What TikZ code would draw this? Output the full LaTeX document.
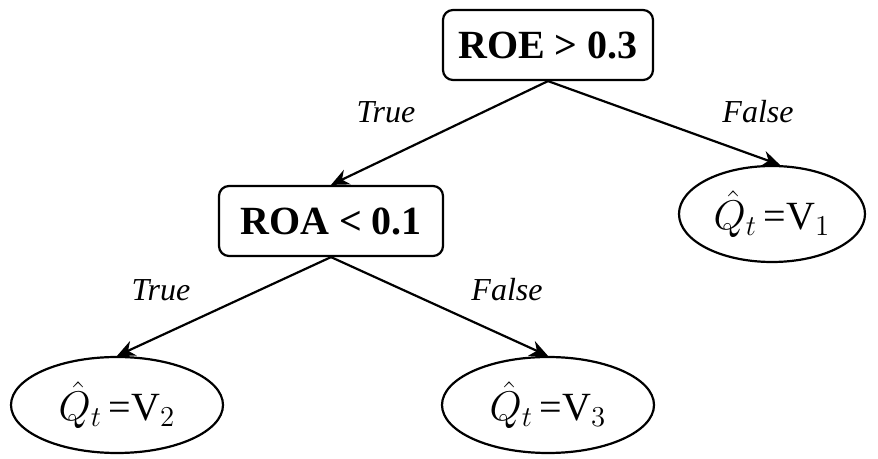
\documentclass[tikz,border=0pt]{standalone}
\usepackage{fontspec}
\setmainfont{Liberation Serif}
\usetikzlibrary{arrows.meta,shapes.geometric}
\colorlet{node edge}{black}
\tikzset{test/.style={draw=node edge, line width=1.1pt, rounded corners=5pt,
        minimum width=105pt, minimum height=35pt, font=\fontsize{20}{24}\selectfont\bfseries},
    leaf/.style={draw=node edge, ellipse, line width=1.1pt, inner sep=1pt,
        minimum width=106pt, minimum height=48pt, font=\fontsize{20}{24}\selectfont},
    branch/.style={line width=1.1pt, -{Stealth[length=9pt,width=8pt]}},
    answer/.style={font=\fontsize{16}{19}\selectfont\itshape}}

\begin{document}
\begin{tikzpicture}[x=0.5pt, y=-0.5pt]
    \useasboundingbox (0,0) rectangle (878,459);
    \node[test] (roe) at (548,45)  {ROE > 0.3};
    \node[test, minimum width=112pt] (roa) at (331,221) {ROA < 0.1};
    \node[leaf, minimum width=93pt] (v1) at (772,214) {$\hat{Q}_t$\,=V$_1$};
    \node[leaf] (v2) at (117,405) {$\hat{Q}_t$\,=V$_2$};
    \node[leaf] (v3) at (548,405) {$\hat{Q}_t$\,=V$_3$};
    \draw[branch] (roe.south) -- (roa.north);
    \draw[branch] (roe.south) -- ([xshift=4pt]v1.north);
    \draw[branch] (roa.south) -- (v2.north);
    \draw[branch] (roa.south) -- (v3.north);
    \node[answer] (t1) at (386,112) {True};
    \node[answer] (f1) at (758,112) {False};
    \node[answer] (t2) at (161,290) {True};
    \node[answer] (f2) at (507,290) {False};
\end{tikzpicture}
\end{document}
